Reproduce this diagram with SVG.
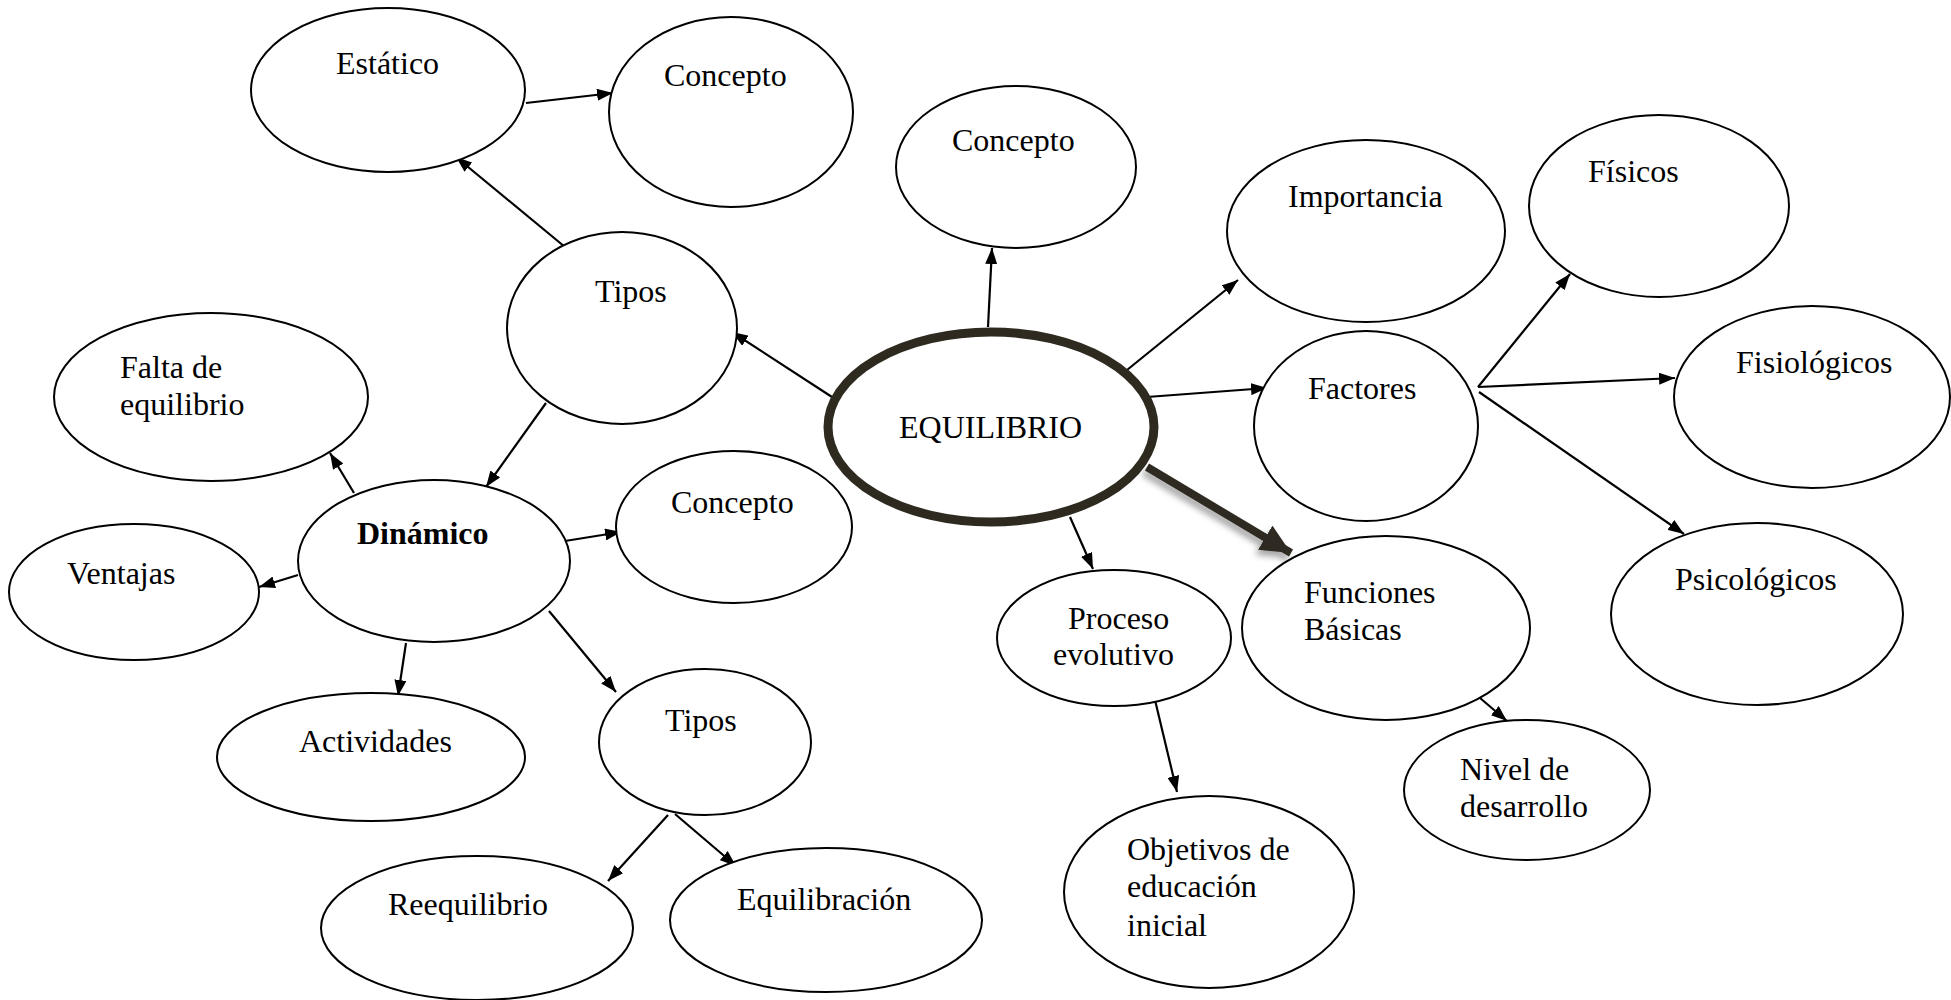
<svg xmlns="http://www.w3.org/2000/svg" width="1951" height="1000" viewBox="0 0 1951 1000">
<style>
.n{fill:#fff;stroke:#000;stroke-width:2}
.c{fill:none;stroke:#000;stroke-width:2.2}
text{font-family:"Liberation Serif","Times New Roman",serif;font-size:32px;fill:#000}
.b{font-weight:bold}
</style>
<defs>
<marker id="ah" markerUnits="userSpaceOnUse" markerWidth="16" markerHeight="12" refX="16" refY="6" orient="auto">
<path d="M0,0 L16,6 L0,12 z" fill="#000"/>
</marker>
<marker id="ahb" markerUnits="userSpaceOnUse" markerWidth="30" markerHeight="28" refX="30" refY="14" orient="auto">
<path d="M0,0 L30,14 L0,28 z" fill="#2e2a20"/>
</marker>
<filter id="sh" x="-20%" y="-20%" width="140%" height="140%">
<feDropShadow dx="-3" dy="5" stdDeviation="3" flood-color="#000" flood-opacity="0.35"/>
</filter>
</defs>
<rect width="1951" height="1000" fill="#fff"/>
<g id="connectors">
<line class="c" x1="526" y1="103" x2="613" y2="93" marker-end="url(#ah)"/>
<line class="c" x1="565" y1="247" x2="456" y2="157" marker-end="url(#ah)"/>
<line class="c" x1="546" y1="403" x2="486" y2="487" marker-end="url(#ah)"/>
<line class="c" x1="354" y1="493" x2="330" y2="453" marker-end="url(#ah)"/>
<line class="c" x1="298" y1="575" x2="259" y2="587" marker-end="url(#ah)"/>
<line class="c" x1="565" y1="541" x2="621" y2="532" marker-end="url(#ah)"/>
<line class="c" x1="406" y1="643" x2="398" y2="696" marker-end="url(#ah)"/>
<line class="c" x1="549" y1="611" x2="616" y2="692" marker-end="url(#ah)"/>
<line class="c" x1="668" y1="815" x2="608" y2="881" marker-end="url(#ah)"/>
<line class="c" x1="675" y1="814" x2="736" y2="866" marker-end="url(#ah)"/>
<line class="c" x1="832" y1="397" x2="732" y2="332" marker-end="url(#ah)"/>
<line class="c" x1="988" y1="327" x2="992" y2="248" marker-end="url(#ah)"/>
<line class="c" x1="1127" y1="370" x2="1238" y2="280" marker-end="url(#ah)"/>
<line class="c" x1="1147" y1="397" x2="1267" y2="388" marker-end="url(#ah)"/>
<line class="c" x1="1478" y1="387" x2="1570" y2="274" marker-end="url(#ah)"/>
<line class="c" x1="1478" y1="387" x2="1675" y2="378" marker-end="url(#ah)"/>
<line class="c" x1="1479" y1="392" x2="1684" y2="534" marker-end="url(#ah)"/>
<line class="c" x1="1070" y1="517" x2="1093" y2="569" marker-end="url(#ah)"/>
<line class="c" x1="1155" y1="700" x2="1177" y2="792" marker-end="url(#ah)"/>
<line class="c" x1="1480" y1="698" x2="1507" y2="721" marker-end="url(#ah)"/>
<line x1="1147" y1="467" x2="1291" y2="553" stroke="#2e2a20" stroke-width="8" marker-end="url(#ahb)" filter="url(#sh)"/>
</g>
<g id="n-estatico"><ellipse class="n" cx="388" cy="90" rx="137" ry="82"/><text x="336" y="74">Estático</text></g>
<g id="n-concepto1"><ellipse class="n" cx="731" cy="112" rx="122" ry="95"/><text x="664" y="86">Concepto</text></g>
<g id="n-concepto2"><ellipse class="n" cx="1016" cy="167" rx="120" ry="81"/><text x="952" y="151">Concepto</text></g>
<g id="n-tipos1"><ellipse class="n" cx="622" cy="328" rx="115" ry="96"/><text x="595" y="302">Tipos</text></g>
<g id="n-falta"><ellipse class="n" cx="211" cy="397" rx="157" ry="84"/><text x="120" y="378">Falta de</text><text x="120" y="415">equilibrio</text></g>
<g id="n-dinamico"><ellipse class="n" cx="434" cy="561" rx="136" ry="81"/><text class="b" x="357" y="544">Dinámico</text></g>
<g id="n-ventajas"><ellipse class="n" cx="134" cy="592" rx="125" ry="68"/><text x="67" y="584">Ventajas</text></g>
<g id="n-concepto3"><ellipse class="n" cx="734" cy="527" rx="118" ry="76"/><text x="671" y="513">Concepto</text></g>
<g id="n-actividades"><ellipse class="n" cx="371" cy="757" rx="154" ry="64"/><text x="299" y="752">Actividades</text></g>
<g id="n-tipos2"><ellipse class="n" cx="705" cy="742" rx="106" ry="73"/><text x="665" y="731">Tipos</text></g>
<g id="n-reequilibrio"><ellipse class="n" cx="477" cy="928" rx="156" ry="72"/><text x="388" y="915">Reequilibrio</text></g>
<g id="n-equilibracion"><ellipse class="n" cx="826" cy="920" rx="156" ry="72"/><text x="737" y="910">Equilibración</text></g>
<g id="n-equilibrio"><ellipse cx="991" cy="427" rx="163" ry="95" fill="#fff" stroke="#2e2a20" stroke-width="9"/><text x="899" y="438">EQUILIBRIO</text></g>
<g id="n-importancia"><ellipse class="n" cx="1366" cy="231" rx="139" ry="91"/><text x="1288" y="207">Importancia</text></g>
<g id="n-fisicos"><ellipse class="n" cx="1659" cy="206" rx="130" ry="91"/><text x="1588" y="182">Físicos</text></g>
<g id="n-factores"><ellipse class="n" cx="1366" cy="426" rx="112" ry="95"/><text x="1308" y="399">Factores</text></g>
<g id="n-fisiologicos"><ellipse class="n" cx="1812" cy="397" rx="138" ry="91"/><text x="1736" y="373">Fisiológicos</text></g>
<g id="n-psicologicos"><ellipse class="n" cx="1757" cy="614" rx="146" ry="91"/><text x="1675" y="590">Psicológicos</text></g>
<g id="n-proceso"><ellipse class="n" cx="1114" cy="638" rx="117" ry="68"/><text x="1068" y="629">Proceso</text><text x="1053" y="665">evolutivo</text></g>
<g id="n-funciones"><ellipse class="n" cx="1386" cy="628" rx="144" ry="92"/><text x="1304" y="603">Funciones</text><text x="1304" y="640">Básicas</text></g>
<g id="n-nivel"><ellipse class="n" cx="1527" cy="790" rx="123" ry="70"/><text x="1460" y="780">Nivel de</text><text x="1460" y="817">desarrollo</text></g>
<g id="n-objetivos"><ellipse class="n" cx="1209" cy="892" rx="145" ry="96"/><text x="1127" y="860">Objetivos de</text><text x="1127" y="897">educación</text><text x="1127" y="936">inicial</text></g>
</svg>
